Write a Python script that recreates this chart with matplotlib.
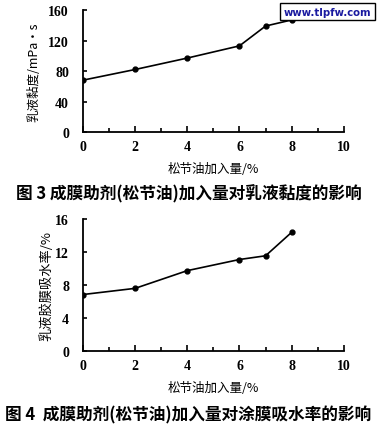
import matplotlib
matplotlib.use("Agg")
import matplotlib.pyplot as plt
from matplotlib.ticker import MultipleLocator

plt.rcParams['font.family'] = ['Liberation Serif', 'Noto Sans CJK SC']

# Data
oil_amount = [0, 2, 4, 6, 7, 8]
viscosity = [68, 82, 97, 113, 139, 147]
water_absorption = [6.85, 7.6, 9.75, 11.1, 11.55, 14.4]

x_ticks = [0, 2, 4, 6, 8, 10]
visc_ticks = [0, 40, 80, 120, 160]
water_ticks = [0, 4, 8, 12, 16]

xlabel = "松节油加入量/%"
ylabel1 = "乳液黏度/mPa·s"
ylabel2 = "乳液胶膜吸水率/%"
caption1 = "图 3 成膜助剂(松节油)加入量对乳液黏度的影响"
caption2 = "图 4  成膜助剂(松节油)加入量对涂膜吸水率的影响"

cjk = ['Noto Sans CJK SC', 'Liberation Serif']

fig = plt.figure(figsize=(3.77, 4.31), dpi=100)

def style(ax, yticks):
    for s in ['top', 'right']:
        ax.spines[s].set_visible(False)
    for s in ['left', 'bottom']:
        ax.spines[s].set_linewidth(1.3)
    ax.set_xlim(0, 10)
    ax.set_ylim(yticks[0], yticks[-1])
    ax.set_xticks(x_ticks)
    ax.set_yticks(yticks)
    ax.xaxis.set_minor_locator(MultipleLocator(1))
    ax.tick_params(axis='both', which='both', direction='in', width=1.2)
    ax.tick_params(axis='x', which='major', length=4, pad=6)
    ax.tick_params(axis='x', which='minor', length=3)
    ax.tick_params(axis='y', which='major', length=3, pad=10)
    for lab in ax.get_xticklabels() + ax.get_yticklabels():
        lab.set_fontsize(10)
        lab.set_fontweight('bold')

ax1 = fig.add_axes([0.220, 0.6914, 0.692, 0.283])
ax1.plot(oil_amount, viscosity, color='black', lw=1.2, marker='o', ms=3.5)
style(ax1, visc_ticks)
ax1.set_xlabel(xlabel, family=cjk, fontsize=9, labelpad=6)
ax1.set_ylabel(ylabel1, family=cjk, fontsize=9, labelpad=6)

ax2 = fig.add_axes([0.220, 0.1833, 0.692, 0.306])
ax2.plot(oil_amount, water_absorption, color='black', lw=1.2, marker='o', ms=3.5)
style(ax2, water_ticks)
ax2.set_xlabel(xlabel, family=cjk, fontsize=9, labelpad=6)
ax2.set_ylabel(ylabel2, family=cjk, fontsize=9.5, labelpad=1)

fig.text(0.5, 1 - 194 / 431, caption1, ha='center', va='center',
         family=cjk, fontsize=12, fontweight='bold')
fig.text(0.5, 1 - 415 / 431, caption2, ha='center', va='center',
         family=cjk, fontsize=12, fontweight='bold')

fig.text(327.5 / 377, 1 - 12.5 / 431, "www.tlpfw.com", ha='center', va='center',
         family='DejaVu Sans', fontsize=7.3, fontweight='bold', color='#1a1aa0',
         bbox=dict(boxstyle='square,pad=0.35', fc='white', ec='black', lw=1))

fig.savefig("out.png", dpi=100)
